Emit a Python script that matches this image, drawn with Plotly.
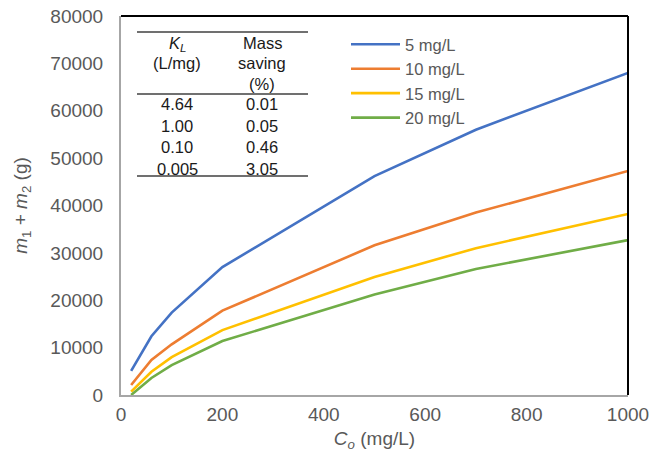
import plotly.graph_objects as go

# ---- data ----
co = [20, 60, 100, 200, 500, 700, 1000]
series_names = ["5 mg/L", "10 mg/L", "15 mg/L", "20 mg/L"]
mass_5 = [5100, 12400, 17400, 27000, 46200, 56000, 68000]
mass_10 = [2100, 7400, 10700, 17800, 31600, 38500, 47300]
mass_15 = [700, 4900, 8000, 13700, 24900, 31000, 38200]
mass_20 = [0, 3600, 6300, 11400, 21200, 26600, 32700]
colors = ["#4472C4", "#ED7D31", "#FFC000", "#70AD47"]

kl_values = ["4.64", "1.00", "0.10", "0.005"]
saving_values = ["0.01", "0.05", "0.46", "3.05"]

x_ticks = [0, 200, 400, 600, 800, 1000]
y_ticks = [0, 10000, 20000, 30000, 40000, 50000, 60000, 70000, 80000]

# ---- layout geometry (pixels) ----
W, H = 655, 464
L, R, T, B = 121, 628, 16, 395


def px(x):
    return (x - L) / (R - L)


def py(y):
    return (B - y) / (B - T)


FONT = "Liberation Sans, Arial, sans-serif"

fig = go.Figure()
for name, ys, c in zip(series_names, [mass_5, mass_10, mass_15, mass_20], colors):
    fig.add_trace(go.Scatter(x=co, y=ys, mode="lines", name=name,
                             line=dict(color=c, width=2.6)))

shapes = [
    # top and right frame (black)
    dict(type="line", xref="paper", yref="paper", x0=0, x1=1, y0=1, y1=1,
         line=dict(color="black", width=2)),
    dict(type="line", xref="paper", yref="paper", x0=1, x1=1, y0=0, y1=1,
         line=dict(color="black", width=2)),
]
# table rules
for yy in [32, 94, 176]:
    shapes.append(dict(type="line", xref="paper", yref="paper",
                       x0=px(137), x1=px(308), y0=py(yy), y1=py(yy),
                       line=dict(color="#404040", width=1.3)))

annotations = []
c1, c2 = px(177), px(262)
header1 = ["<i>K<sub>L</sub></i>", "(L/mg)"]
header2 = ["Mass", "saving", "(%)"]
tfont = dict(size=16.5, color="#1a1a1a", family=FONT)
for t, yy in zip(header1, [44, 63]):
    annotations.append(dict(text=t, x=c1, y=py(yy), xref="paper", yref="paper",
                            showarrow=False, xanchor="center", yanchor="middle",
                            font=tfont))
for t, yy in zip(header2, [43, 63, 84]):
    annotations.append(dict(text=t, x=c2, y=py(yy), xref="paper", yref="paper",
                            showarrow=False, xanchor="center", yanchor="middle",
                            font=tfont))
for i, (a, b) in enumerate(zip(kl_values, saving_values)):
    yy = 104 + i * 21.7
    annotations.append(dict(text=a, x=c1, y=py(yy), xref="paper", yref="paper",
                            showarrow=False, xanchor="center", yanchor="middle",
                            font=tfont))
    annotations.append(dict(text=b, x=c2, y=py(yy), xref="paper", yref="paper",
                            showarrow=False, xanchor="center", yanchor="middle",
                            font=tfont))

fig.update_layout(
    width=W, height=H,
    margin=dict(l=L, r=W - R, t=T, b=H - B, autoexpand=False),
    paper_bgcolor="white", plot_bgcolor="white",
    font=dict(family=FONT, size=19, color="#595959"),
    shapes=shapes, annotations=annotations,
    showlegend=True,
    legend=dict(x=px(346), y=py(27), xanchor="left", yanchor="top",
                bgcolor="rgba(0,0,0,0)", itemwidth=49,
                font=dict(size=16.5, color="#595959", family=FONT)),
    xaxis=dict(range=[0, 1000], tickvals=x_ticks, showgrid=False, zeroline=False,
               showline=True, linecolor="#A6A6A6", linewidth=2, automargin=False,
               ticks="outside", ticklen=1, tickcolor="rgba(0,0,0,0)",
               title=dict(text="<i>C<sub>o</sub></i> (mg/L)", standoff=8,
                          font=dict(size=19, color="#595959"))),
    yaxis=dict(range=[0, 80000], tickvals=y_ticks, showgrid=False, zeroline=False,
               showline=True, linecolor="#A6A6A6", linewidth=2, automargin=False,
               ticks="outside", ticklen=12, tickcolor="rgba(0,0,0,0)",
               tickformat="d",
               title=dict(text="<i>m</i><sub>1</sub> + <i>m</i><sub>2</sub> (g)",
                          standoff=18, font=dict(size=19, color="#595959"))),
)

fig.write_html("out.html")
